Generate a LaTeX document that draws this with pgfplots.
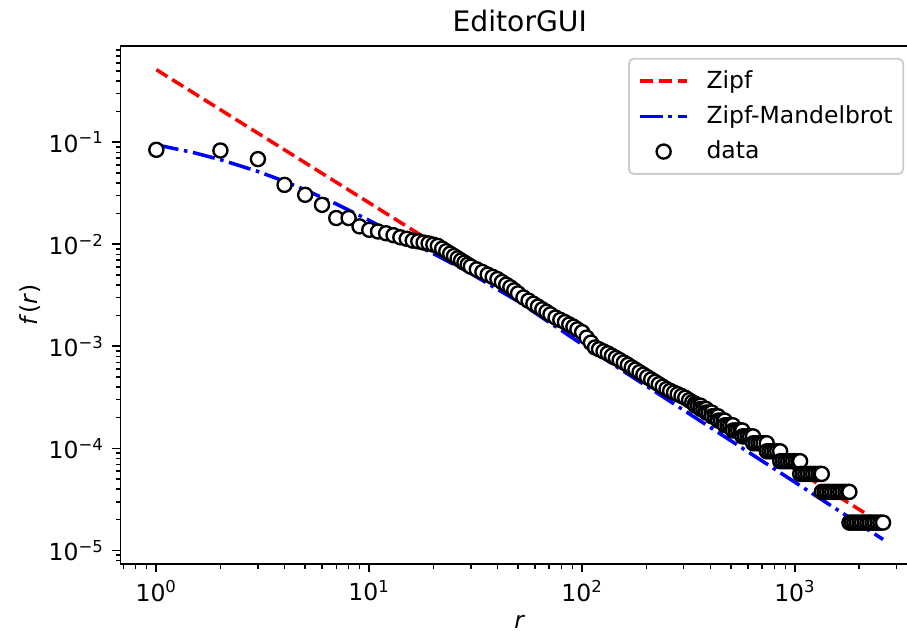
\documentclass[border=0pt]{standalone}
\usepackage{fontspec}
\setmainfont{DejaVu Sans}
\usepackage{pgfplots}
\pgfplotsset{compat=1.18}
\begin{document}
\begin{tikzpicture}
\begin{axis}[
  at={(0pt,0pt)}, anchor=south west,
  scale only axis, width=339.8pt, height=220.5pt,
  xmode=log, ymode=log, log basis x=10, log basis y=10,
  xmin=0.679, xmax=3820, ymin=7.38e-6, ymax=0.883,
  /pgf/number format/assume math mode=true,
  axis line style={line width=0.8pt},
  tick align=outside, xtick pos=bottom, ytick pos=left,
  major tick length=3.5pt, minor tick length=2pt,
  every tick/.style={black, line width=0.8pt},
  minor tick style={black, line width=0.6pt},
  xtick={1,10,100,1000},
  xticklabels={10\textsuperscript{0},10\textsuperscript{1},10\textsuperscript{2},10\textsuperscript{3}},
  minor xtick={0.7,0.8,0.9,2,3,4,5,6,7,8,9,20,30,40,50,60,70,80,90,200,300,400,500,600,700,800,900,2000,3000},
  ytick={1e-5,1e-4,1e-3,1e-2,1e-1},
  yticklabels={10\textsuperscript{−5},10\textsuperscript{−4},10\textsuperscript{−3},10\textsuperscript{−2},10\textsuperscript{−1}},
  minor ytick={8e-6,9e-6,2e-5,3e-5,4e-5,5e-5,6e-5,7e-5,8e-5,9e-5,2e-4,3e-4,4e-4,5e-4,6e-4,7e-4,8e-4,9e-4,2e-3,3e-3,4e-3,5e-3,6e-3,7e-3,8e-3,9e-3,0.02,0.03,0.04,0.05,0.06,0.07,0.08,0.09,0.2,0.3,0.4,0.5,0.6,0.7,0.8},
  xticklabel style={font=\fontsize{10}{12}\selectfont},
  yticklabel style={font=\fontsize{10}{12}\selectfont},
  title={EditorGUI},
  every axis title/.style={at={(axis description cs:0.5,1)}, anchor=base, yshift=6pt, font=\fontsize{12}{14}\selectfont, inner sep=0pt},
  xlabel={\textit{r}},
  xlabel style={at={(axis description cs:0.5,-0.111)}, anchor=center, inner sep=0pt},
  ylabel={\textit{f}(\textit{r})},
  ylabel style={at={(axis description cs:-0.1133,0.5)}, anchor=center, inner sep=0pt},
  legend image code/.code={\draw[mark repeat=2,mark phase=2,#1] plot coordinates {(0pt,0pt) (10pt,0pt) (20pt,0pt)};},
  legend cell align=left,
  legend style={at={(rel axis cs:1,1)}, anchor=north east, xshift=-6.3pt, yshift=-5.1pt,
    draw=black!20, line width=0.8pt, rounded corners=2pt, fill=white,
    inner xsep=4pt, inner ysep=4pt, row sep=4pt,
    font=\fontsize{10}{12}\selectfont,
    nodes={inner sep=0.5pt, text depth=2pt, text height=8pt},
    /tikz/every odd column/.append style={column sep=7pt}},
]
\addplot[forget plot, only marks, mark=*, mark size=3pt, mark options={fill=white, draw=black, line width=1pt}] coordinates {
(1,0.0845) (2,0.0832) (3,0.0685) (4,0.0383) (5,0.0306) (6,0.0244) (7,0.01812) (8,0.01812) (9,0.01501) (10,0.01389)
(11,0.01337) (12,0.01285) (13,0.01229) (14,0.01173) (15,0.01135) (16,0.01089) (17,0.01070) (18,0.01042) (19,0.01022) (20,0.00994)
(21,9.65e-3) (22,9.08e-3) (23,8.57e-3) (24,8.11e-3) (25,7.69e-3) (26,7.30e-3) (27,6.95e-3) (28,6.63e-3) (29,6.33e-3) (30,6.06e-3)
(32,5.69e-3) (34,5.36e-3) (36,5.06e-3) (38,4.80e-3) (40,4.57e-3) (42,4.28e-3) (44,4.03e-3) (46,3.80e-3) (48,3.55e-3) (50,3.31e-3)
(53,3.02e-3) (56,2.81e-3) (59,2.62e-3) (62,2.46e-3) (65,2.31e-3) (68,2.18e-3) (71,2.06e-3) (75,1.92e-3) (79,1.82e-3) (83,1.73e-3)
(87,1.64e-3) (91,1.56e-3) (95,1.47e-3) (100,1.38e-3) (105,1.22e-3) (110,1.09e-3) (115,9.77e-4) (120,9.38e-4) (126,8.94e-4) (132,8.55e-4)
(138,8.11e-4) (144,7.71e-4) (150,7.35e-4) (157,6.96e-4) (164,6.59e-4) (171,6.23e-4) (178,5.92e-4) (186,5.59e-4) (194,5.29e-4) (202,5.01e-4)
(211,4.74e-4) (220,4.49e-4) (229,4.26e-4) (239,4.03e-4) (249,3.82e-4) (259,3.67e-4) (270,3.53e-4) (281,3.40e-4) (293,3.27e-4) (305,3.14e-4)
(318,2.97e-4) (329,2.84e-4) (339,2.74e-4)
(340,2.6264e-4) (350,2.6264e-4) (360,2.6264e-4)
(361,2.4388e-4) (371,2.4388e-4) (382,2.4388e-4)
(383,2.2512e-4) (394,2.2512e-4) (406,2.2512e-4)
(407,2.0636e-4) (419,2.0636e-4) (431,2.0636e-4) (435,2.0636e-4)
(436,1.876e-4) (449,1.876e-4) (462,1.876e-4) (467,1.876e-4)
(468,1.6884e-4) (482,1.6884e-4) (496,1.6884e-4) (510,1.6884e-4)
(511,1.5008e-4) (526,1.5008e-4) (541,1.5008e-4) (556,1.5008e-4) (565,1.5008e-4)
(566,1.3132e-4) (582,1.3132e-4) (599,1.3132e-4) (616,1.3132e-4) (635,1.3132e-4)
(636,1.1256e-4) (654,1.1256e-4) (673,1.1256e-4) (692,1.1256e-4) (712,1.1256e-4) (736,1.1256e-4)
(737,9.38e-5) (758,9.38e-5) (780,9.38e-5) (802,9.38e-5) (825,9.38e-5) (851,9.38e-5)
(852,7.504e-5) (876,7.504e-5) (901,7.504e-5) (927,7.504e-5) (953,7.504e-5) (980,7.504e-5) (1008,7.504e-5) (1036,7.504e-5) (1056,7.504e-5)
(1057,5.628e-5) (1087,5.628e-5) (1118,5.628e-5) (1150,5.628e-5) (1183,5.628e-5) (1217,5.628e-5) (1252,5.628e-5) (1288,5.628e-5) (1320,5.628e-5) (1335,5.628e-5)
(1336,3.752e-5) (1375,3.752e-5) (1415,3.752e-5) (1455,3.752e-5) (1495,3.752e-5) (1540,3.752e-5) (1585,3.752e-5) (1630,3.752e-5) (1675,3.752e-5) (1725,3.752e-5) (1775,3.752e-5) (1800,3.752e-5)
(1801,1.876e-5) (1850,1.876e-5) (1900,1.876e-5) (1955,1.876e-5) (2010,1.876e-5) (2065,1.876e-5) (2125,1.876e-5) (2185,1.876e-5) (2245,1.876e-5) (2310,1.876e-5) (2375,1.876e-5) (2445,1.876e-5) (2515,1.876e-5) (2590,1.876e-5)
};
\addplot[red, line width=1.5pt, dash pattern=on 5.55pt off 2.4pt] coordinates {(1,0.516) (2590,1.80e-5)};
\addplot[blue, line width=1.5pt, dash pattern=on 9.6pt off 2.4pt on 1.5pt off 2.4pt] coordinates {
(1,0.0946) (1.5,0.0792) (2,0.0677) (3,0.05186) (4,0.04147) (5,0.03422) (7,0.02490) (10,0.01720) (15,0.01092) (20,8.13e-3)
(30,5.18e-3) (50,2.76e-3) (100,1.047e-3) (200,4.10e-4) (500,1.189e-4) (1000,4.66e-5) (2590,1.283e-5)};
\addlegendimage{only marks, mark=*, mark size=3pt, mark options={fill=white, draw=black, line width=1pt}}
\legend{Zipf,Zipf-Mandelbrot,data}
\end{axis}
\pgfresetboundingbox
\useasboundingbox (-51.3pt,-31.1pt) rectangle (334.7pt,240.0pt);
\end{tikzpicture}
\end{document}
